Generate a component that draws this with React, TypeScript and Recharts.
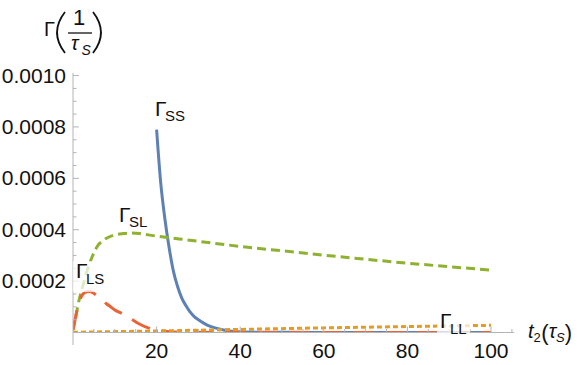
import React from 'react';
import { LineChart, Line, XAxis, YAxis } from 'recharts';

// ---- data ----
const T_SS = [20, 21, 22, 23, 24, 25, 26, 27, 28, 29, 30, 32, 34, 36, 38, 40, 45, 50, 60, 70, 80, 90, 100];
const V_SS = [0.00079, 0.00058, 0.00044, 0.00033, 0.00024, 0.00018, 0.000135, 0.000105, 0.00008, 0.000062, 0.00005, 0.00003, 0.000018, 0.00001, 0.000005, 0.000003, 0.000001, 0.0000005, 0.0000003, 0.0000002, 0.0000002, 0.0000001, 0.0000001];

const T_SL = [0, 0.5, 1, 1.5, 2, 3, 4, 5, 6, 7, 8, 10, 12, 14, 16, 18, 20, 25, 30, 40, 50, 60, 70, 80, 90, 100];
const V_SL = [0.00001, 0.00005, 0.00009, 0.00013, 0.00016, 0.00022, 0.00027, 0.00031, 0.00034, 0.000355, 0.000367, 0.00038, 0.000385, 0.000387, 0.000385, 0.00038, 0.000375, 0.000365, 0.000355, 0.000335, 0.000318, 0.000301, 0.000285, 0.00027, 0.000256, 0.000243];

const T_LS = [0, 0.5, 1, 1.5, 2, 3, 4, 5, 6, 7, 8, 9, 10, 12, 14, 16, 18, 20, 22, 24, 30, 40, 60, 80, 100];
const V_LS = [0.00001, 0.00005, 0.00009, 0.00012, 0.00014, 0.000157, 0.00016, 0.000152, 0.00014, 0.000127, 0.000112, 0.0001, 0.000088, 0.000072, 0.000052, 0.000032, 0.000018, 0.00001, 0.000005, 0.000002, 0.0000005, 0.0000002, 0.0000001, 0.0000001, 0.0000001];

const T_LL = [0, 20, 40, 60, 80, 100];
const V_LL = [0.000001, 0.000006, 0.000012, 0.000018, 0.000023, 0.000028];

const X_MAJOR = [20, 40, 60, 80, 100];
const X_MINOR = [5, 10, 15, 25, 30, 35, 45, 50, 55, 65, 70, 75, 85, 90, 95, 105];
const Y_MAJOR = [0.0002, 0.0004, 0.0006, 0.0008, 0.001];
const Y_MINOR = [0.00005, 0.0001, 0.00015, 0.00025, 0.0003, 0.00035, 0.00045, 0.0005, 0.00055, 0.00065, 0.0007, 0.00075, 0.00085, 0.0009, 0.00095];

const CURVE_LABELS = [
  { sub: 'SS', t: 19.6, v: 0.000843 },
  { sub: 'SL', t: 11.0, v: 0.000432 },
  { sub: 'LS', t: 0.7, v: 0.000212 },
  { sub: 'LL', t: 87.8, v: 0.0000175 },
];

const toData = (ts: number[], vs: number[]) => ts.map((t, i) => ({ t, v: vs[i] }));
const ssData = toData(T_SS, V_SS);
const slData = toData(T_SL, V_SL);
const lsData = toData(T_LS, V_LS);
const llData = toData(T_LL, V_LL);

// ---- layout ----
const W = 581;
const H = 365;
const LEFT = 73;
const TOP = 73;
const RIGHT = 514;
const BOTTOM = 332.5;
const X_DOMAIN: [number, number] = [0, 105.5];
const Y_DOMAIN: [number, number] = [0, 0.00101];
const AXIS = '#b4b4b4';
const FONT = '"Liberation Sans", Arial, sans-serif';

const px = (t: number) => LEFT + ((t - X_DOMAIN[0]) / (X_DOMAIN[1] - X_DOMAIN[0])) * (RIGHT - LEFT);
const py = (v: number) => BOTTOM - ((v - Y_DOMAIN[0]) / (Y_DOMAIN[1] - Y_DOMAIN[0])) * (BOTTOM - TOP);

const YTick = (props: any) => {
  const { y, payload } = props;
  const major = Y_MAJOR.includes(payload.value);
  return (
    <g>
      <line x1={LEFT} x2={LEFT + (major ? 6 : 3.5)} y1={y} y2={y} stroke={AXIS} strokeWidth={1} />
      {major && (
        <text x={66} y={y + 7} textAnchor="end" fontFamily={FONT} fontSize={21} fill="#111">
          {payload.value.toFixed(4)}
        </text>
      )}
    </g>
  );
};

const XTick = (props: any) => {
  const { x, payload } = props;
  const major = X_MAJOR.includes(payload.value);
  return (
    <g>
      <line x1={x} x2={x} y1={BOTTOM} y2={BOTTOM - (major ? 6 : 3.5)} stroke={AXIS} strokeWidth={1} />
      {major && (
        <text x={x} y={358} textAnchor="middle" fontFamily={FONT} fontSize={21} fill="#111">
          {payload.value}
        </text>
      )}
    </g>
  );
};

export default function App() {
  return (
    <div style={{ position: 'absolute', left: 0, top: 0, width: W, height: H, background: '#fff' }}>
      <LineChart
        width={W}
        height={H}
        margin={{ top: TOP, right: W - RIGHT, bottom: 0, left: 0 }}
      >
        <XAxis
          type="number"
          dataKey="t"
          domain={X_DOMAIN}
          allowDataOverflow
          ticks={[...X_MAJOR, ...X_MINOR]}
          tick={<XTick />}
          tickLine={false}
          axisLine={{ stroke: AXIS, strokeWidth: 1 }}
          height={H - BOTTOM}
          interval={0}
        />
        <YAxis
          type="number"
          domain={Y_DOMAIN}
          allowDataOverflow
          ticks={[...Y_MAJOR, ...Y_MINOR]}
          tick={<YTick />}
          tickLine={false}
          axisLine={{ stroke: AXIS, strokeWidth: 1 }}
          width={LEFT}
          interval={0}
        />
        <Line data={ssData} dataKey="v" type="monotone" stroke="#5E81B5" strokeWidth={3} dot={false} isAnimationActive={false} />
        <Line data={slData} dataKey="v" type="monotone" stroke="#8FB131" strokeWidth={3} strokeDasharray="9 5" dot={false} isAnimationActive={false} />
        <Line data={lsData} dataKey="v" type="monotone" stroke="#EB6235" strokeWidth={3} strokeDasharray="20 12" dot={false} isAnimationActive={false} />
        <Line data={llData} dataKey="v" type="monotone" stroke="#E19C24" strokeWidth={3} strokeDasharray="5 3" dot={false} isAnimationActive={false} />
      </LineChart>
      <svg width={W} height={H} style={{ position: 'absolute', left: 0, top: 0, pointerEvents: 'none' }}>
        {/* y axis extends slightly below the x axis */}
        <line x1={LEFT} x2={LEFT} y1={BOTTOM} y2={345} stroke={AXIS} strokeWidth={1} />
        {/* curve labels */}
        {CURVE_LABELS.map((l) => {
          const x = px(l.t);
          const y = py(l.v);
          const subW = l.sub === 'LL' ? 17 : l.sub === 'SL' ? 18.5 : 20;
          const below = l.sub === 'LS' || l.sub === 'LL' ? 14 : 8.5;
          return (
            <g key={l.sub}>
              <rect x={x - 3} y={y - 17} width={10 + subW + 6} height={17 + below} fill="#fff" opacity={0.72} />
              <text x={x} y={y} fontFamily={FONT} fontSize={21} fill="#111">Γ</text>
              <text x={x + 10} y={y + 5.5} fontFamily={FONT} fontSize={15} fill="#111">{l.sub}</text>
            </g>
          );
        })}
        {/* y axis title Γ(1/τS) */}
        <text x={44} y={36} fontFamily={FONT} fontSize={20} fill="#111">Γ</text>
        <path d="M65,12 Q49,32.5 65,53" stroke="#111" strokeWidth={1.8} fill="none" />
        <text x={79} y={25} textAnchor="middle" fontFamily={FONT} fontSize={22} fill="#111">1</text>
        <line x1={68} x2={92} y1={33} y2={33} stroke="#111" strokeWidth={1.3} />
        <text x={71} y={50} fontFamily={FONT} fontStyle="italic" fontSize={20} fill="#111">τ</text>
        <text x={81.5} y={55} fontFamily={FONT} fontStyle="italic" fontSize={14} fill="#111">S</text>
        <path d="M93,12 Q109,32.5 93,53" stroke="#111" strokeWidth={1.8} fill="none" />
        {/* x axis title t2(τS) */}
        <text x={528} y={338} fontFamily={FONT} fontSize={20} fill="#111">
          <tspan fontStyle="italic">t</tspan>
          <tspan fontSize={13} dy={4}>2</tspan>
          <tspan fontSize={22} dy={-2} dx={0.5}>(</tspan>
          <tspan fontStyle="italic" dy={-2}>τ</tspan>
          <tspan fontStyle="italic" fontSize={13} dy={4}>S</tspan>
          <tspan fontSize={22} dy={-2}>)</tspan>
        </text>
      </svg>
    </div>
  );
}
